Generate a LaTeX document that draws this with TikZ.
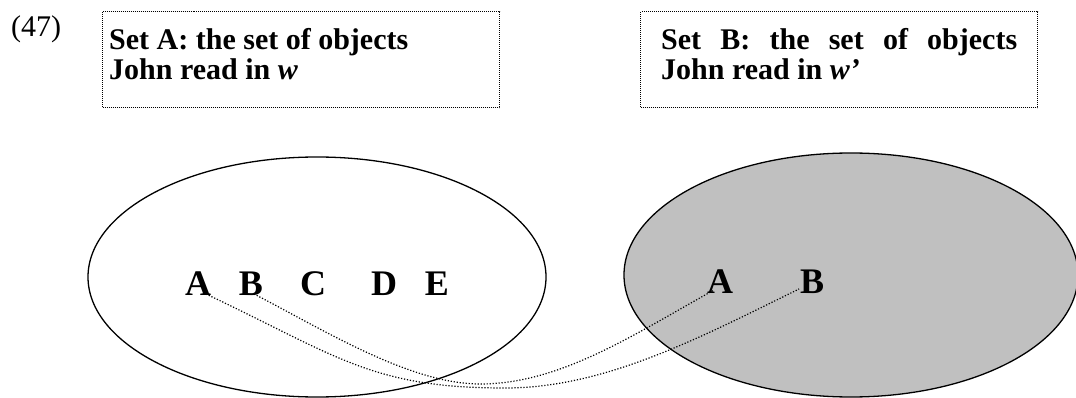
\documentclass[tikz,border=0pt]{standalone}
\usepackage{fontspec}
\setmainfont{Liberation Serif}
\usetikzlibrary{calc,shapes.geometric}
\definecolor{setgray}{RGB}{192,192,192}
\begin{document}
\begin{tikzpicture}[x=1pt,y=-1pt,
  setline/.style={draw, line width=1.3pt, ellipse, inner sep=0pt},
  linkline/.style={line width=1.2pt, dash pattern=on 1.2pt off 1.8pt},
  framebox/.style={draw, line width=1pt, dash pattern=on 1pt off 1pt,
    minimum width=397pt, minimum height=96pt, inner sep=0pt},
  member/.style={font=\fontsize{36}{36}\selectfont\bfseries, inner sep=0pt, anchor=base},
  head/.style={font=\fontsize{30}{30}\selectfont\bfseries, inner sep=0pt, anchor=base west}]
\useasboundingbox (0,0) rectangle (1076,398);

% example number
\node[font=\fontsize{30}{30}\selectfont, inner sep=0pt, anchor=base west] (num) at (11,37) {(47)};

% captions of the two sets
\node[framebox] (boxA) at (301,60) {};
\node[framebox] (boxB) at (839,60) {};
\node[head] (capA) at (109,50) {\parbox[t]{380pt}{\baselineskip=30pt
  Set A: the set of objects\\ John read in {\itshape w}}};
\node[head] (capB) at (661,50) {\parbox[t]{370pt}{\baselineskip=30pt
  \makebox[356pt][s]{Set B: the set of objects}\\ John read in {\itshape w’}}};

% the two sets
\node[setline, fill=setgray, minimum width=454pt, minimum height=244pt] (setB) at (851,275) {};
\node[setline, minimum width=458pt, minimum height=240pt] (setA) at (317,277) {};

% members
\node[member] (la) at (198,295) {A};
\node[member] (lb) at (251,295) {B};
\node[member] (lc) at (313,295) {C};
\node[member] (ld) at (384,295) {D};
\node[member] (le) at (437,295) {E};
\node[member] (ra) at (720,293) {A};
\node[member] (rb) at (812,293) {B};

% lowest points of the links
\coordinate (lowAB) at (505,388);
\coordinate (lowBA) at (480,384);

% links between the sets
\draw[linkline] ($(la.base)+(8,-1)$) .. controls (339,357) and (372,388) .. (lowAB)
  .. controls (605,388) and (699,338) .. ($(rb.base)+(-13,-4)$);
\draw[linkline] ($(lb.base)+(3,-1)$) .. controls (324,330) and (410,384) .. (lowBA)
  .. controls (560,384) and (633,335) .. ($(ra.base)+(-6,-3)$);
\end{tikzpicture}
\end{document}
